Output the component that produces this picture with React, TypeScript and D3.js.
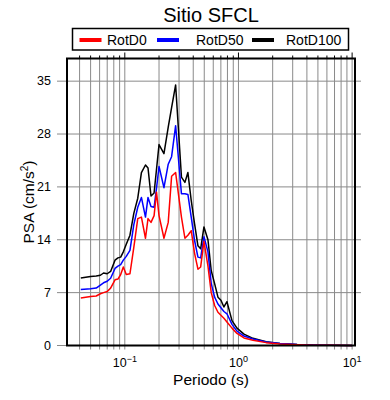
import React from 'react';
import * as d3 from 'd3';

const periods = [0.041, 0.050, 0.056, 0.061, 0.065, 0.070, 0.075, 0.082, 0.087, 0.092, 0.097, 0.103, 0.111, 0.120, 0.130, 0.140, 0.152, 0.160, 0.170, 0.181, 0.190, 0.200, 0.221, 0.241, 0.258, 0.280, 0.315, 0.338, 0.359, 0.384, 0.411, 0.440, 0.465, 0.497, 0.539, 0.576, 0.617, 0.660, 0.701, 0.745, 0.792, 0.877, 0.970, 1.118, 1.342, 1.75, 2.32, 3.28, 4.53, 6.4, 10.0];

const rotD0 = [6.3, 6.5, 6.55, 6.85, 7.0, 7.15, 7.6, 8.7, 8.8, 9.4, 10.4, 9.4, 9.5, 13.0, 16.8, 17.0, 14.2, 16.8, 16.3, 17.2, 20.3, 17.2, 14.2, 16.3, 22.4, 22.9, 17.0, 14.2, 14.6, 15.2, 12.2, 10.1, 10.4, 13.8, 10.5, 7.0, 5.3, 4.4, 4.0, 3.6, 3.1, 2.3, 1.6, 1.0, 0.7, 0.38, 0.2, 0.1, 0.04, 0.02, 0.01];

const rotD50 = [7.4, 7.5, 7.6, 8.0, 8.3, 8.5, 8.9, 10.2, 10.5, 10.7, 11.3, 11.8, 12.6, 16.0, 18.3, 19.6, 17.0, 19.6, 18.4, 18.3, 20.8, 23.7, 20.9, 24.0, 25.0, 29.1, 20.1, 20.1, 20.0, 17.0, 13.9, 11.7, 11.6, 14.4, 12.4, 8.2, 6.4, 5.5, 5.0, 4.5, 4.2, 2.8, 1.9, 1.25, 0.85, 0.45, 0.25, 0.12, 0.05, 0.02, 0.01];

const rotD100 = [8.95, 9.15, 9.2, 9.3, 9.6, 9.5, 9.8, 11.3, 11.6, 11.7, 12.4, 13.4, 14.6, 17.5, 19.5, 22.9, 23.9, 23.5, 19.8, 20.2, 23.3, 26.6, 25.4, 28.9, 31.5, 34.5, 22.3, 21.6, 22.9, 19.2, 16.1, 13.2, 12.8, 15.7, 14.0, 9.9, 8.2, 6.4, 6.0, 5.1, 5.8, 3.3, 2.3, 1.5, 0.95, 0.5, 0.28, 0.14, 0.06, 0.03, 0.01];

const seriesNames = ['RotD0', 'RotD50', 'RotD100'];
const seriesColors = ['#ff0000', '#0000ff', '#000000'];
const yTicks = [0, 7, 14, 21, 28, 35];
const xMajor = [0.1, 1, 10];
const xMajorExp = ['\u22121', '0', '1'];

const FONT = '"Liberation Sans", Arial, Helvetica, sans-serif';

export default function App() {
  const left = 67, right = 355, top = 58.5, bottom = 345.5;
  const x = d3.scaleLog().domain([0.031, 10.6]).range([left, right]);
  const y = d3.scaleLinear().domain([0, 38]).range([bottom, top]);

  const minor: number[] = [];
  for (let k = -2; k <= 1; k++) {
    for (let m = 1; m <= 9; m++) {
      const v = m * Math.pow(10, k);
      if (v >= 0.031 && v <= 10.6) minor.push(v);
    }
  }

  const line = d3.line<number>()
    .x((_, i) => x(periods[i]))
    .y((d) => y(d));

  const data = [rotD0, rotD50, rotD100];
  const drawOrder = [2, 1, 0];

  const legendItems = [
    { lx: 79.5, tx: 107 },
    { lx: 157, tx: 196 },
    { lx: 252, tx: 286 },
  ];

  return (
    <svg width={390} height={400} style={{ position: 'absolute', left: 0, top: 0, background: '#fff' }} fontFamily={FONT}>
      <rect x={0} y={0} width={390} height={400} fill="#fff" />
      {/* vertical grid */}
      {minor.map((v) => (
        <line key={'vg' + v} x1={x(v)} x2={x(v)} y1={top} y2={bottom + 4} stroke="#8a8a8a" strokeWidth={1} />
      ))}
      {/* horizontal grid */}
      {yTicks.filter((t) => t > 0).map((t) => (
        <line key={'hg' + t} x1={left - 10} x2={right + 6} y1={y(t)} y2={y(t)} stroke="#8a8a8a" strokeWidth={1} />
      ))}
      <line x1={left - 10} x2={left} y1={y(0)} y2={y(0)} stroke="#8a8a8a" strokeWidth={1} />
      {/* top ticks */}
      {minor.map((v) => {
        const isMajor = xMajor.some((m) => Math.abs(m - v) < 1e-9);
        return (
          <line key={'tt' + v} x1={x(v)} x2={x(v)} y1={top} y2={top - (isMajor ? 6 : 3)} stroke="#000" strokeWidth={1} />
        );
      })}
      {/* series */}
      {drawOrder.map((si) => (
        <path key={'s' + si} d={line(data[si]) || ''} fill="none" stroke={seriesColors[si]} strokeWidth={1.5} strokeLinejoin="round" />
      ))}
      {/* frame */}
      <rect x={left} y={top} width={right - left} height={bottom - top} fill="none" stroke="#000" strokeWidth={2} />
      {/* y labels */}
      {yTicks.map((t) => (
        <text key={'yl' + t} x={51} y={y(t) + 4.3} textAnchor="end" fontSize={12.5} fill="#000">{t}</text>
      ))}
      {/* x labels */}
      {xMajor.map((v, i) => (
        <text key={'xl' + v} x={x(v)} y={367} textAnchor="middle" fontSize={12.5} fill="#000">
          10<tspan dy={-5.5} fontSize={9}>{xMajorExp[i]}</tspan>
        </text>
      ))}
      <text x={(left + right) / 2} y={385} textAnchor="middle" fontSize={15.5} fill="#000">Periodo (s)</text>
      <text transform={`translate(33.5, ${(top + bottom) / 2}) rotate(-90)`} textAnchor="middle" fontSize={15.5} fill="#000">
        PSA (cm/s<tspan dy={-5.5} fontSize={10}>2</tspan><tspan dy={5.5}>)</tspan>
      </text>
      {/* title */}
      <text x={(left + right) / 2} y={22} textAnchor="middle" fontSize={20} fill="#000">Sitio SFCL</text>
      {/* legend */}
      <rect x={72.5} y={28.5} width={276} height={21.5} fill="#fff" stroke="#000" strokeWidth={1.5} />
      {legendItems.map((it, i) => (
        <g key={'lg' + i}>
          <line x1={it.lx} x2={it.lx + 22} y1={40} y2={40} stroke={seriesColors[i]} strokeWidth={4} />
          <text x={it.tx} y={45} fontSize={14} fill="#000">{seriesNames[i]}</text>
        </g>
      ))}
    </svg>
  );
}
